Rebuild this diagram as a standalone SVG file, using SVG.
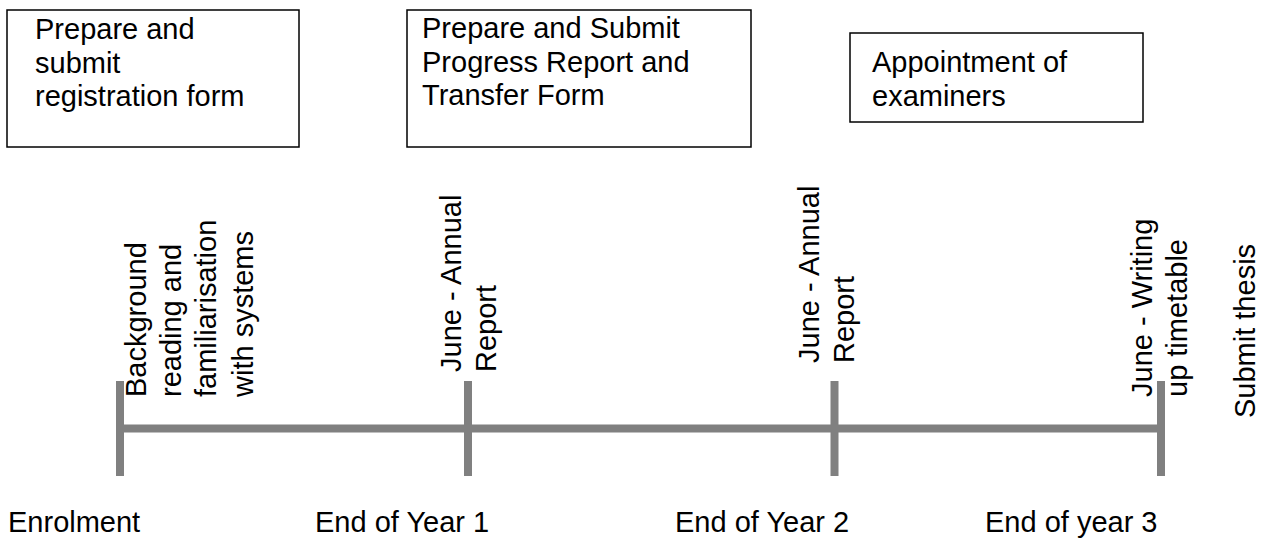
<svg xmlns="http://www.w3.org/2000/svg" width="1266" height="538" viewBox="0 0 1266 538">
<style>
text{font-family:"Liberation Sans",Arial,sans-serif;font-size:29px;fill:#000}
.box{fill:#fff;stroke:#000;stroke-width:1.5}
.tl{stroke:#808080;stroke-width:8;fill:none}
</style>
<rect width="1266" height="538" fill="#fff"/>
<g id="box-registration">
<rect class="box" x="7" y="10" width="292" height="137"/>
<text x="35" y="39">Prepare and</text>
<text x="35" y="72.5">submit</text>
<text x="35" y="106">registration form</text>
</g>
<g id="box-progress">
<rect class="box" x="407" y="10" width="344" height="137"/>
<text x="422" y="38">Prepare and Submit</text>
<text x="422" y="71.5">Progress Report and</text>
<text x="422" y="105">Transfer Form</text>
</g>
<g id="box-examiners">
<rect class="box" x="850" y="33" width="293" height="89"/>
<text x="872" y="72">Appointment of</text>
<text x="872" y="105.5">examiners</text>
</g>
<g id="connectors">
<line class="tl" x1="120" y1="428.5" x2="1161" y2="428.5"/>
<line class="tl" x1="120" y1="381" x2="120" y2="476"/>
<line class="tl" x1="468" y1="381" x2="468" y2="476"/>
<line class="tl" x1="834.5" y1="381" x2="834.5" y2="476"/>
<line class="tl" x1="1161" y1="381" x2="1161" y2="476"/>
</g>
<g id="label-background">
<text transform="translate(146,397) rotate(-90)">Background</text>
<text transform="translate(181,397) rotate(-90)">reading and</text>
<text transform="translate(216,397) rotate(-90)">familiarisation</text>
<text transform="translate(253,397) rotate(-90)">with systems</text>
</g>
<g id="label-june1">
<text transform="translate(461,372) rotate(-90)">June - Annual</text>
<text transform="translate(496,372) rotate(-90)">Report</text>
</g>
<g id="label-june2">
<text transform="translate(819,363) rotate(-90)">June - Annual</text>
<text transform="translate(854,363) rotate(-90)">Report</text>
</g>
<g id="label-june3">
<text transform="translate(1152,397) rotate(-90)">June - Writing</text>
<text transform="translate(1187,397) rotate(-90)">up timetable</text>
</g>
<g id="label-submit">
<text transform="translate(1255,418) rotate(-90)">Submit thesis</text>
</g>
<g id="milestone-enrolment"><text x="8" y="532">Enrolment</text></g>
<g id="milestone-year1"><text x="315" y="532">End of Year 1</text></g>
<g id="milestone-year2"><text x="675" y="532">End of Year 2</text></g>
<g id="milestone-year3"><text x="985" y="532">End of year 3</text></g>
</svg>
